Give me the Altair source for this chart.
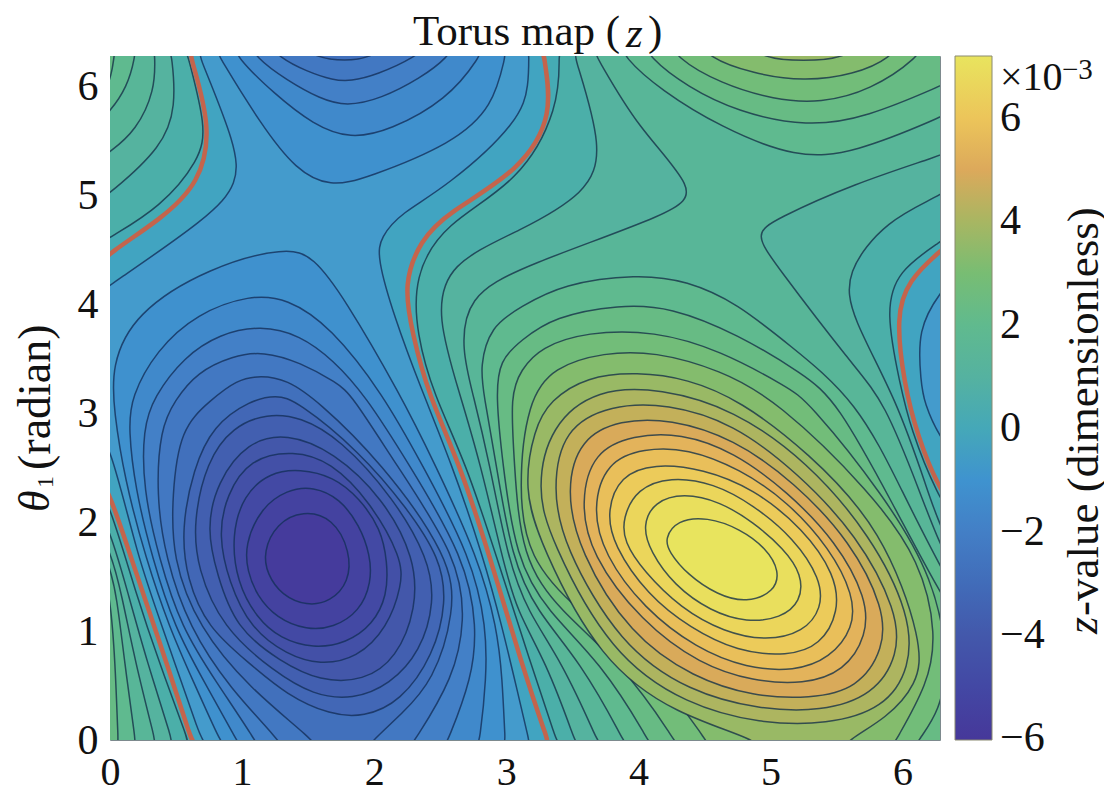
import altair as alt
import pandas as pd

BASE = [(-30, -30), (40, -30), (40, 40), (-30, 40)]

# ---- regions above a positive contour level (band value, outline in radians) ----
P1 = [(3.42,-.15),(3.38,0),(3.18,.72),(2.93,1.67),(2.69,2.56),(2.45,3.17),(2.32,3.73),(2.3,4.25),(2.52,4.74),(3.11,5.13),(3.4,5.82),(3.4,6.27),(3.4,6.45),(5,7),(6.8,5.5),(6.45,4.72),(6.29,4.58),(5.96,4.31),(5.87,3.94),(5.98,3.27),(6.06,2.86),(6.26,2.25),(6.45,1.9),(6.8,1),(5,-.7)]
P2 = [(3.56,-.15),(3.52,0),(3.3,.72),(3.08,1.18),(2.97,1.67),(2.8,2.56),(2.65,3.17),(2.47,3.89),(2.55,4.38),(3.11,4.68),(3.61,5.02),(3.74,5.42),(3.52,6.27),(3.48,6.45),(5,7),(6.8,5.5),(6.45,5.15),(6.29,5.0),(5.88,4.78),(5.56,4.29),(5.61,3.89),(5.96,3.12),(6.2,2.25),(6.29,1.94),(6.45,1.6),(6.8,.8),(5,-.7)]
P3 = [(3.74,-.15),(3.69,0),(3.42,.72),(3.16,1.18),(3.01,1.67),(2.87,2.56),(2.75,3.17),(2.66,3.58),(2.7,4.07),(3.11,4.35),(4.29,4.85),(4.45,5.05),(3.99,5.63),(3.69,6.27),(3.6,6.45),(5,7),(6.8,6),(6.45,5.45),(6.29,5.37),(5.63,5.11),(5.03,4.78),(4.88,4.65),(5.03,4.38),(5.63,3.43),(5.86,3.12),(6.14,2.25),(6.29,1.76),(6.45,1.45),(6.8,.5),(5,-.7)]
P4 = [(3.94,-.15),(3.89,0),(3.56,.72),(3.23,1.18),(3.04,1.67),(2.92,2.56),(2.83,3.17),(2.8,3.43),(2.88,3.8),(3.11,3.98),(3.43,4.19),(3.99,4.28),(4.37,4.22),(4.75,4.01),(5.13,3.64),(5.66,3.12),(6.01,2.25),(6.29,1.58),(6.45,1.25),(6.8,.2),(5,-.7)]
P5 = [(4.13,-.15),(4.08,0),(3.71,.72),(3.31,1.18),(3.07,1.67),(2.97,2.56),(2.92,3.17),(2.95,3.49),(3.11,3.67),(3.36,3.89),(3.86,4.0),(4.24,3.98),(4.75,3.73),(5.25,3.36),(5.5,3.12),(5.93,2.16),(6.29,1.33),(6.45,1.05),(6.8,.1),(5,-.7)]
P6 = [(4.33,-.15),(4.28,0),(3.86,.72),(3.41,1.18),(3.11,1.67),(3.06,2.56),(3.03,3.17),(3.11,3.4),(3.26,3.61),(3.61,3.75),(4.12,3.76),(4.62,3.58),(5.13,3.24),(5.28,3.12),(5.86,2.25),(6.24,1.48),(6.35,.72),(6.28,.26),(6.12,0),(6.05,-.15),(5.2,-.5)]
P7 = [(4.57,-.15),(4.52,0),(4.07,.72),(3.54,1.18),(3.16,1.67),(3.09,2.31),(3.16,3.12),(3.36,3.43),(3.74,3.56),(4.12,3.57),(4.62,3.4),(5.05,3.12),(5.76,2.28),(6.14,1.64),(6.26,.96),(6.19,.51),(5.95,0),(5.88,-.15),(5.2,-.5)]
P8 = [(4.97,-.15),(4.92,0),(4.29,.23),(3.71,.72),(3.26,1.79),(3.13,2.31),(3.21,2.86),(3.33,3.12),(3.61,3.34),(3.99,3.38),(4.37,3.32),(4.77,3.12),(5.28,2.65),(5.85,1.94),(6.16,.87),(6.11,.51),(5.88,.2),(5.58,0),(5.5,-.15),(5.2,-.5)]
P9 = [(3.23,2.31),(3.33,2.89),(3.69,3.23),(4.17,3.23),(4.72,3.04),(5.28,2.56),(5.76,1.88),(6.06,1.15),(6.06,.66),(5.86,.29),(5.43,.14),(4.92,.15),(4.37,.32),(3.79,.78),(3.33,1.85)]
P10 = [(3.35,2.31),(3.43,2.86),(3.79,3.08),(4.22,3.09),(4.72,2.91),(5.2,2.46),(5.66,1.88),(5.96,1.18),(5.97,.78),(5.78,.41),(5.38,.26),(4.92,.28),(4.39,.44),(3.86,.87),(3.43,1.79)]
P11 = [(3.45,2.31),(3.56,2.77),(3.86,2.94),(4.24,2.95),(4.72,2.77),(5.18,2.37),(5.61,1.82),(5.86,1.21),(5.86,.84),(5.66,.47),(5.3,.38),(4.87,.4),(4.42,.57),(3.94,.96),(3.55,1.73)]
P12 = [(3.56,2.19),(3.66,2.65),(3.96,2.8),(4.32,2.82),(4.72,2.65),(5.13,2.28),(5.5,1.82),(5.73,1.3),(5.73,.96),(5.56,.63),(5.25,.51),(4.87,.54),(4.47,.69),(4.02,1.09),(3.64,1.7)]
P13 = [(3.65,2.13),(3.76,2.56),(4.04,2.68),(4.37,2.68),(4.77,2.49),(5.13,2.19),(5.45,1.76),(5.63,1.33),(5.63,1.03),(5.45,.75),(5.18,.63),(4.82,.66),(4.44,.84),(4.04,1.21),(3.74,1.7)]
P14 = [(3.76,2.1),(3.86,2.43),(4.12,2.54),(4.49,2.49),(4.87,2.31),(5.25,1.94),(5.49,1.52),(5.52,1.18),(5.38,.87),(5.13,.77),(4.75,.81),(4.39,1.03),(4.07,1.33),(3.81,1.79)]
P15 = [(3.88,2.04),(3.99,2.31),(4.24,2.42),(4.57,2.36),(4.87,2.16),(5.18,1.85),(5.38,1.48),(5.39,1.21),(5.25,.99),(4.97,.91),(4.65,.99),(4.32,1.21),(4.04,1.55),(3.89,1.82)]
P16 = [(4.03,1.97),(4.12,2.19),(4.34,2.27),(4.62,2.19),(4.87,2.0),(5.1,1.76),(5.24,1.52),(5.23,1.27),(5.08,1.12),(4.82,1.08),(4.55,1.18),(4.27,1.42),(4.09,1.73)]
P17 = [(4.2,1.85),(4.29,2.02),(4.52,2.05),(4.77,1.94),(4.97,1.76),(5.07,1.55),(5.03,1.36),(4.82,1.26),(4.6,1.33),(4.37,1.52),(4.23,1.73)]
# upper right lobes (wrap round the top edge)
T4 = [(3.84,6.45),(3.89,6.27),(4.17,5.97),(4.62,5.63),(5.2,5.34),(5.63,5.39),(6.29,5.72),(6.45,5.82),(6.8,6.8),(5,7.2)]
T5 = [(4.02,6.45),(4.08,6.27),(4.37,6.0),(4.75,5.77),(5.28,5.63),(5.73,5.72),(6.29,6.01),(6.45,6.1),(6.8,6.9),(5,7.2)]
T6 = [(4.22,6.45),(4.28,6.27),(4.62,6.03),(5.03,5.88),(5.38,5.85),(5.76,5.97),(6.12,6.27),(6.2,6.45),(5.2,6.9)]
T7 = [(4.45,6.45),(4.52,6.27),(4.87,6.12),(5.25,6.05),(5.63,6.11),(5.92,6.27),(6.0,6.45),(5.2,6.9)]
T8 = [(4.85,6.4),(4.92,6.27),(5.25,6.23),(5.58,6.27),(5.66,6.4),(5.25,6.8)]
# top-left corner
A1 = [(-.15,4.5),(0,4.62),(.38,4.89),(.68,5.33),(.73,5.63),(.59,6.27),(.56,6.45),(-.4,6.9),(-.5,5)]
A2 = [(-.15,4.9),(0,5.02),(.4,5.45),(.5,5.82),(.47,6.27),(.44,6.45),(-.4,6.9),(-.5,5.2)]
A3 = [(-.15,5.28),(0,5.4),(.2,5.6),(.34,5.97),(.34,6.27),(.33,6.45),(-.4,6.9),(-.5,5.5)]
A4 = [(-.15,5.6),(0,5.77),(.13,6.0),(.19,6.27),(.2,6.45),(-.4,6.9),(-.5,5.8)]
A5 = [(-.12,5.9),(0,6.01),(.03,6.27),(.05,6.45),(-.4,6.9),(-.5,6.1)]
# bottom-left corner
B1 = [(-.15,2.5),(0,2.16),(.2,1.33),(.37,.72),(.59,0),(.63,-.15),(-.4,-.6),(-.5,1.5)]
B2 = [(-.15,2.25),(0,1.94),(.14,1.33),(.28,.72),(.47,0),(.5,-.15),(-.4,-.6),(-.5,1.3)]
B3 = [(-.15,2.05),(0,1.76),(.09,1.33),(.19,.72),(.34,0),(.37,-.15),(-.4,-.6),(-.5,1.1)]
B4 = [(-.1,1.9),(0,1.58),(.05,1.33),(.11,.72),(.19,0),(.21,-.15),(-.4,-.6),(-.5,1)]
B5 = [(-.06,1.6),(0,1.33),(.04,.72),(.06,0),(.07,-.15),(-.4,-.6),(-.5,.8)]

# ---- regions below a negative contour level ----
R0 = [(.65,-.15),(.62,0),(.34,1.03),(.16,1.67),(.01,2.23),(-.15,2.6),(-.3,3.4),(-.15,4.3),(0,4.48),(.38,4.78),(.68,5.11),(.77,5.63),(.61,6.27),(.58,6.45),(1.9,6.95),(3.28,6.45),(3.28,6.27),(3.36,5.75),(3.11,5.23),(2.55,4.84),(2.35,4.59),(2.22,4.19),(2.29,3.73),(2.41,3.17),(2.64,2.56),(2.88,1.67),(3.11,.72),(3.31,0),(3.36,-.15),(1.9,-.6)]
RC = [(6.29,4.5),(6.04,4.22),(5.95,3.89),(6.01,3.28),(6.11,2.8),(6.29,2.25),(6.5,2.0),(6.7,3.4),(6.5,4.7)]
N1 = [(.75,-.15),(.69,0),(.4,1.03),(.21,1.67),(0,2.74),(-.15,2.95),(-.3,3.5),(-.15,4.05),(0,4.18),(.76,4.81),(.97,5.11),(.96,5.45),(.68,6.27),(.63,6.45),(1.9,6.9),(3.17,6.45),(3.17,6.27),(3.17,6.03),(3.11,5.69),(2.55,5.08),(2.2,4.84),(2.05,4.62),(2.02,4.44),(2.15,3.89),(2.35,3.24),(2.58,2.56),(2.83,1.67),(2.97,1.03),(3.08,.47),(3.17,0),(3.2,-.15),(1.9,-.6)]
NC = [(6.29,4.13),(6.11,3.77),(6.14,3.28),(6.16,3.11),(6.29,2.74),(6.5,2.5),(6.7,3.4),(6.5,4.4)]
N2 = [(.9,-.15),(.83,0),(.63,.54),(.45,1.03),(.27,1.67),(.11,2.4),(.03,3.02),(.01,3.43),(.18,3.92),(.76,4.35),(1.34,4.53),(1.54,4.44),(1.77,4.07),(2.2,3.17),(2.45,2.56),(2.79,1.67),(2.93,1.03),(2.97,.57),(2.99,0),(3.0,-.15),(1.94,-.5)]
N3 = [(1.02,-.15),(.96,0),(.71,.54),(.49,1.03),(.32,1.67),(.19,2.31),(.14,2.86),(.16,3.15),(.35,3.58),(.66,3.92),(1.06,4.09),(1.34,4.06),(1.67,3.8),(2.07,3.17),(2.35,2.56),(2.74,1.67),(2.85,1.03),(2.85,.57),(2.8,0),(2.77,-.15),(1.89,-.5)]
N4 = [(1.16,-.15),(1.1,0),(.8,.54),(.54,1.03),(.37,1.67),(.25,2.31),(.25,2.86),(.33,3.15),(.56,3.52),(.83,3.73),(1.14,3.81),(1.44,3.72),(1.69,3.49),(1.93,3.17),(2.25,2.56),(2.69,1.67),(2.78,1.03),(2.74,.57),(2.56,0),(2.5,-.15),(1.82,-.5)]
N5 = [(1.35,-.15),(1.28,0),(.91,.47),(.6,1.03),(.42,1.67),(.35,2.25),(.38,2.86),(.49,3.12),(.66,3.38),(.93,3.53),(1.16,3.57),(1.44,3.47),(1.72,3.28),(1.83,3.17),(2.15,2.56),(2.64,1.67),(2.69,1.09),(2.6,.57),(2.31,0),(2.22,-.15),(1.79,-.4)]
N6 = [(1.6,-.12),(1.54,0),(1.06,.47),(.67,1.03),(.47,1.67),(.47,2.25),(.53,2.86),(.76,3.12),(.96,3.31),(1.14,3.35),(1.34,3.31),(1.57,3.12),(2.05,2.56),(2.58,1.67),(2.61,1.18),(2.45,.54),(2.2,.23),(1.99,0),(1.92,-.12),(1.77,-.3)]
N7 = [(1.04,.72),(.74,1.03),(.58,1.48),(.54,1.94),(.63,2.49),(.78,2.89),(1.06,3.12),(1.26,3.17),(1.41,3.12),(1.89,2.65),(2.25,2.13),(2.5,1.67),(2.55,1.27),(2.45,.78),(2.2,.35),(1.92,.21),(1.67,.23),(1.34,.41)]
N8 = [(1.24,.63),(.85,1.03),(.66,1.58),(.63,2.0),(.73,2.56),(.93,2.88),(1.19,3.0),(1.44,2.97),(1.74,2.77),(2.15,2.22),(2.41,1.67),(2.46,1.27),(2.35,.81),(2.12,.51),(1.84,.37),(1.54,.41)]
N9 = [(.73,1.94),(.81,2.37),(1.04,2.74),(1.34,2.82),(1.69,2.65),(2.07,2.22),(2.31,1.67),(2.32,1.21),(2.17,.75),(1.92,.54),(1.59,.54),(1.29,.72),(.95,1.03),(.81,1.52)]
N10 = [(.82,1.88),(.88,2.25),(1.06,2.59),(1.39,2.66),(1.67,2.56),(1.97,2.19),(2.21,1.67),(2.21,1.42),(2.10,1.03),(1.87,.75),(1.59,.69),(1.34,.78),(1.06,1.03),(.90,1.45)]
N11 = [(.92,1.88),(1.01,2.25),(1.21,2.46),(1.44,2.49),(1.69,2.42),(1.89,2.22),(2.05,1.94),(2.10,1.64),(2.10,1.33),(1.99,1.06),(1.79,.89),(1.54,.84),(1.29,.93),(1.11,1.12),(.96,1.45)]
N12 = [(1.02,1.79),(1.14,2.13),(1.34,2.30),(1.54,2.33),(1.74,2.22),(1.89,1.97),(1.97,1.70),(1.98,1.45),(1.89,1.18),(1.69,1.03),(1.49,1.01),(1.26,1.12),(1.11,1.33),(1.04,1.55)]
N13 = [(1.16,1.73),(1.26,1.99),(1.46,2.11),(1.69,2.04),(1.82,1.73),(1.81,1.45),(1.67,1.27),(1.49,1.23),(1.30,1.33),(1.19,1.52)]
# upper basin lobes (wrap round the top edge)
U2 = [(.75,6.45),(.83,6.27),(1.14,5.66),(1.41,5.23),(1.67,5.08),(1.94,5.16),(2.6,5.48),(2.9,5.82),(2.99,6.27),(3.02,6.45),(1.9,6.9)]
U3 = [(.9,6.45),(.96,6.27),(1.24,5.94),(1.54,5.65),(1.82,5.52),(2.12,5.6),(2.55,5.88),(2.8,6.27),(2.86,6.45),(1.9,6.9)]
U4 = [(1.03,6.45),(1.1,6.27),(1.34,6.06),(1.59,5.89),(1.79,5.82),(2.05,5.89),(2.35,6.08),(2.56,6.27),(2.64,6.45),(1.9,6.9)]
U5 = [(1.2,6.4),(1.28,6.27),(1.49,6.14),(1.69,6.06),(1.82,6.05),(2.02,6.11),(2.31,6.27),(2.42,6.4),(1.85,6.8)]
U6 = [(1.48,6.36),(1.54,6.28),(1.78,6.23),(1.99,6.28),(2.06,6.36),(1.77,6.6)]

POSITIVE = [("base",.215,BASE),("P1",.65,P1),("A1",.65,A1),("B1",.65,B1),("P2",1.08,P2),("A2",1.08,A2),("B2",1.08,B2),
            ("P3",1.5,P3),("A3",1.5,A3),("B3",1.5,B3),("P4",1.94,P4),("T4",1.94,T4),("A4",1.94,A4),("B4",1.94,B4),
            ("P5",2.37,P5),("T5",2.37,T5),("A5",2.37,A5),("B5",2.37,B5),("P6",2.8,P6),("T6",2.8,T6),("P7",3.23,P7),("T7",3.23,T7),
            ("P8",3.66,P8),("T8",3.66,T8),("P9",4.09,P9),("P10",4.52,P10),("P11",4.95,P11),("P12",5.38,P12),("P13",5.81,P13),
            ("P14",6.24,P14),("P15",6.67,P15),("P16",7.0,P16),("P17",7.2,P17)]
ZERO = [("R0",-.215,R0),("RC",-.215,RC)]
NEGATIVE = [("N1",-.65,N1),("NC",-.65,NC),("N2",-1.08,N2),("U2",-1.08,U2),("N3",-1.5,N3),("U3",-1.5,U3),("N4",-1.94,N4),("U4",-1.94,U4),
            ("N5",-2.37,N5),("U5",-2.37,U5),("N6",-2.8,N6),("U6",-2.8,U6),("N7",-3.23,N7),("N8",-3.66,N8),("N9",-4.09,N9),
            ("N10",-4.52,N10),("N11",-4.95,N11),("N12",-5.38,N12),("N13",-5.8,N13)]

Z_STOPS = [-6.03,-4,-2,-1,-.5,0,1,2,3,4,5,6,7.2]
Z_COLORS = ["#46379a","#4358ab","#437fc6","#3f93cf","#489ecb","#45a8b8","#55b2a0","#60ba8e","#78bd73","#a8b662","#dca95b","#ecc55a","#e8e45e"]
TICKS_XY = [0,1,2,3,4,5,6]
TICKS_Z = [-6,-4,-2,0,2,4,6]
SERIF = "Liberation Serif"
TWO_PI = 6.2832


def table(groups):
    rows = []
    for g, (name, z, pts) in enumerate(groups):
        for i, (x, y) in enumerate(pts):
            rows.append({"name": f"{g:03d}{name}", "z": z, "x": x, "y": y, "i": i})
    return pd.DataFrame(rows)


x_enc = alt.X("x:Q", scale=alt.Scale(domain=[0, TWO_PI], nice=False, zero=False),
              axis=alt.Axis(values=TICKS_XY, format="d", title=None, grid=False, ticks=False, domain=False,
                            labelFont=SERIF, labelFontSize=40, labelColor="#111", labelPadding=12, labelFlush=False))
y_enc = alt.Y("y:Q", scale=alt.Scale(domain=[0, TWO_PI], nice=False, zero=False),
              axis=alt.Axis(values=TICKS_XY, format="d", title=None, grid=False, ticks=False, domain=False,
                            labelFont=SERIF, labelFontSize=42, labelColor="#111", labelPadding=12, labelFlush=False))
fill_enc = alt.Fill("z:Q", scale=alt.Scale(domain=Z_STOPS, range=Z_COLORS),
                    legend=alt.Legend(orient="none", legendX=845, legendY=0, title=None, values=TICKS_Z,
                                      gradientLength=684, gradientThickness=37, gradientStrokeColor="#8a8a70",
                                      gradientStrokeWidth=1, labelFont=SERIF, labelFontSize=42, labelColor="#111",
                                      labelOffset=8, labelOverlap=False, format="d",
                                      labelExpr="replace(datum.label,'-','\u2212')"))


def contours(groups, stroke, width, opacity):
    return alt.Chart(table(groups)).mark_line(interpolate="basis-closed", clip=True, stroke=stroke,
                                              strokeWidth=width, strokeOpacity=opacity).encode(
        x=x_enc, y=y_enc, fill=fill_enc, detail="name:N", order="i:Q")


def label(text, px, py, size=44, style="normal", angle=0):
    return alt.Chart(pd.DataFrame({"t": [text]})).mark_text(
        font=SERIF, fontSize=size, fontStyle=style, angle=angle, align="left", baseline="middle", color="#111"
    ).encode(x=alt.value(px - 110), y=alt.value(py - 56), text="t:N")


def bar_tick(z):
    py = (7.2 - z) / (7.2 + 6.03) * 684
    return alt.Chart(pd.DataFrame({"z": [z]})).mark_rule(color="#4a4a3c", strokeWidth=1.5).encode(
        x=alt.value(875), x2=alt.value(882), y=alt.value(py))


layers = [
    contours(POSITIVE, "#173248", 1.5, .8),
    contours(ZERO, "#c4644c", 4.5, 1),
    contours(NEGATIVE, "#14305a", 1.5, .8),
    label("Torus map (", 413, 32, 43),
    label("z", 626, 34, 43, "italic"),
    label(")", 648, 32, 43),
    label("\u03b8", 36, 512, 44, "italic", 270),
    label("1", 46, 488, 24, "normal", 270),
    label("(radian)", 36, 470, 46, "normal", 270),
    label("z", 1084, 634, 44, "italic", 270),
    label("-value (dimensionless)", 1084, 616, 45, "normal", 270),
    label("\u00d710", 1000, 78, 40),
    label("\u22123", 1062, 70, 29),
] + [bar_tick(z) for z in TICKS_Z[1:-1]]

chart = alt.layer(*layers).properties(
    width=830, height=684,
    padding={"left": 102, "top": 48, "right": 164, "bottom": 48},
    autosize=alt.AutoSizeParams(type="none"),
    background="white",
).configure_view(stroke="#7d8a8e", strokeWidth=1)

chart.save("out.html", embed_options={"renderer": "svg", "actions": False})
